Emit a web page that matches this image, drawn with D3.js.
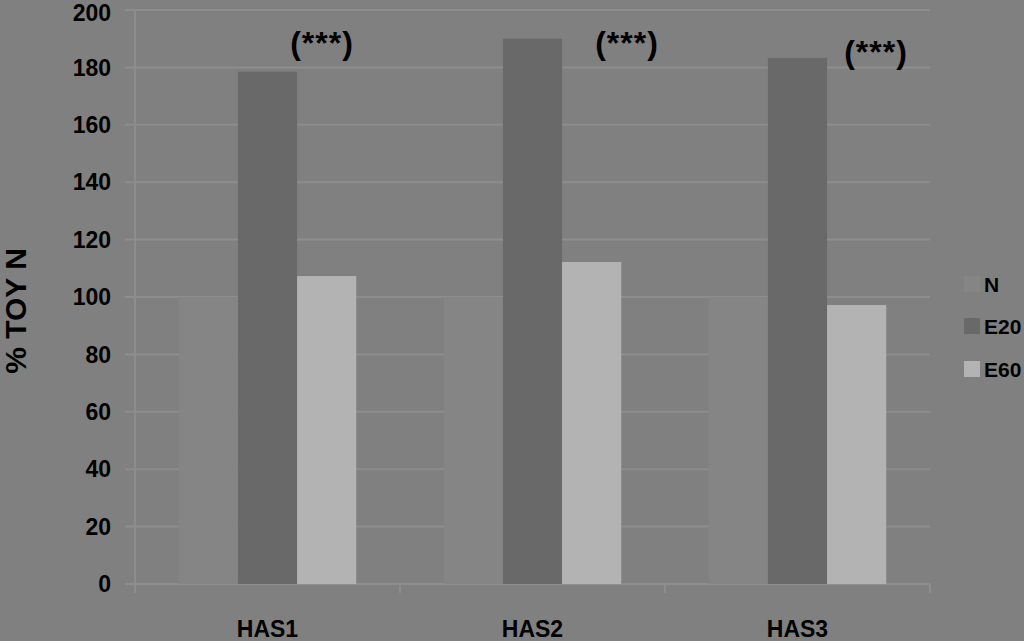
<!DOCTYPE html>
<html><head><meta charset="utf-8">
<script src="https://cdn.jsdelivr.net/npm/d3@7"></script>
<style>html,body{margin:0;padding:0;background:#808080;}svg{display:block;}</style>
</head><body>
<svg id="c" width="1024" height="641"></svg>
<script>
const categories = ["HAS1", "HAS2", "HAS3"];
const seriesNames = ["N", "E20", "E60"];
const valuesN = [100, 100, 100];
const valuesE20 = [178.5, 190, 183.3];
const valuesE60 = [107.3, 112.2, 97.2];
const annotations = ["(***)", "(***)", "(***)"];
const yTicks = [0, 20, 40, 60, 80, 100, 120, 140, 160, 180, 200];
const yTitle = "% TOY N";

const colors = {N: "#858585", E20: "#696969", E60: "#b3b3b3"};
const series = {N: valuesN, E20: valuesE20, E60: valuesE60};

const svg = d3.select("#c");
const pLeft = 135, pRight = 930, pTop = 10, pBottom = 584;
const font = "'Liberation Sans', Arial, sans-serif";

const x = d3.scaleBand().domain(categories).range([pLeft, pRight]).paddingInner(0).paddingOuter(0);
const xs = d3.scaleBand().domain(seriesNames).range([0, x.bandwidth()]).paddingInner(0).paddingOuter(0.74);
const y = d3.scaleLinear().domain([0, 200]).range([pBottom, pTop]);

// gridlines
svg.append("g").selectAll("line").data(yTicks).join("line")
  .attr("x1", pLeft - 10).attr("x2", pRight)
  .attr("y1", d => y(d)).attr("y2", d => y(d))
  .attr("stroke", "#8d8d8d").attr("stroke-width", 2);

// y axis line
svg.append("line").attr("x1", pLeft).attr("x2", pLeft).attr("y1", pTop).attr("y2", pBottom + 9)
  .attr("stroke", "#8d8d8d").attr("stroke-width", 2);

// x category tick marks
const bounds = [pLeft].concat(categories.map(c => x(c) + x.bandwidth()));
svg.append("g").selectAll("line").data(bounds).join("line")
  .attr("x1", d => d).attr("x2", d => d).attr("y1", pBottom).attr("y2", pBottom + 9)
  .attr("stroke", "#8d8d8d").attr("stroke-width", 2);

// bars
const g = svg.append("g");
seriesNames.forEach(s => {
  g.append("g").selectAll("rect").data(categories).join("rect")
    .attr("x", (c) => x(c) + xs(s))
    .attr("width", xs.bandwidth())
    .attr("y", (c, i) => y(series[s][i]))
    .attr("height", (c, i) => y(0) - y(series[s][i]))
    .attr("fill", colors[s]);
});

// y tick labels
svg.append("g").selectAll("text").data(yTicks).join("text")
  .attr("x", 111).attr("y", d => Math.max(y(d), 13)).attr("dy", "0.36em")
  .attr("text-anchor", "end").attr("font-family", font).attr("font-weight", "bold")
  .attr("font-size", 23).attr("fill", "#000").text(d => d);

// category labels
svg.append("g").selectAll("text").data(categories).join("text")
  .attr("x", c => x(c) + x.bandwidth() / 2).attr("y", 637)
  .attr("text-anchor", "middle").attr("font-family", font).attr("font-weight", "bold")
  .attr("font-size", 23).attr("fill", "#000").text(c => c);

// annotations
const annX = [322, 627, 876];
const annY = [54, 54, 63];
svg.append("g").selectAll("text").data(annotations).join("text")
  .attr("x", (d, i) => annX[i]).attr("y", (d, i) => annY[i])
  .attr("text-anchor", "middle").attr("font-family", font).attr("font-weight", "bold")
  .attr("font-size", 32).attr("letter-spacing", 1).attr("fill", "#000").text(d => d);

// y title
svg.append("text").attr("transform", "translate(26,311) rotate(-90)")
  .attr("text-anchor", "middle").attr("font-family", font).attr("font-weight", "bold")
  .attr("font-size", 30).attr("fill", "#000").text(yTitle);

// legend
const ly = [284, 326, 369];
const lg = svg.append("g");
seriesNames.forEach((s, i) => {
  lg.append("rect").attr("x", 964).attr("y", ly[i] - 8).attr("width", 16).attr("height", 16).attr("fill", colors[s]);
  lg.append("text").attr("x", 984).attr("y", ly[i]).attr("dy", "0.36em")
    .attr("font-family", font).attr("font-weight", "bold").attr("font-size", 21)
    .attr("fill", "#000").text(s);
});
</script>
</body></html>
